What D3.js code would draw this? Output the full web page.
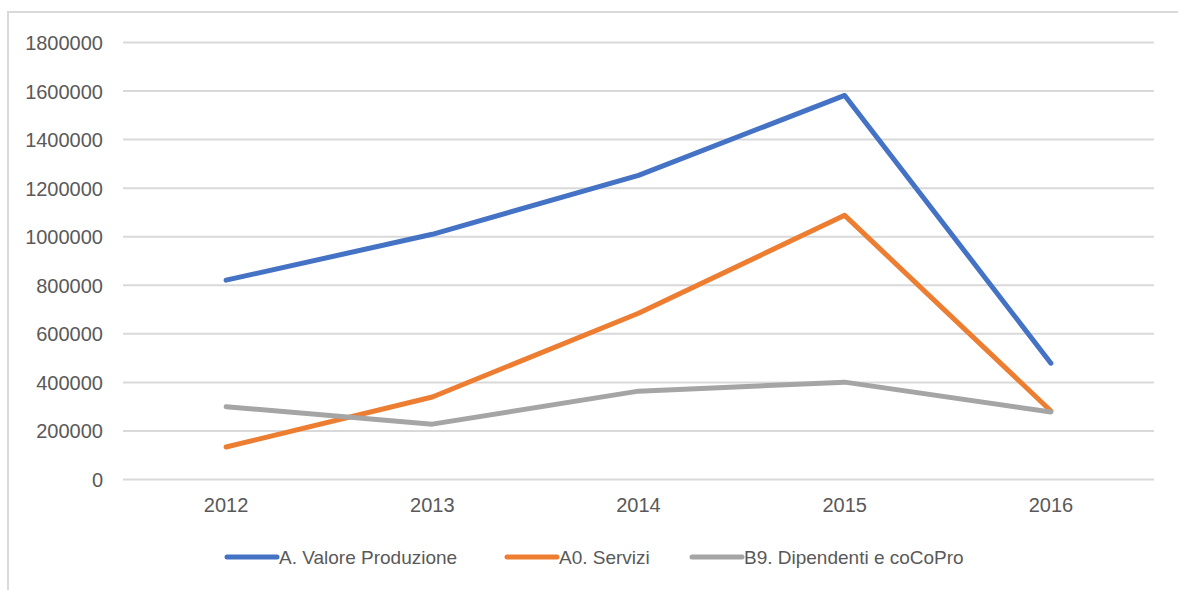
<!DOCTYPE html>
<html lang="it">
<head>
    <meta charset="UTF-8">
    <script src="https://cdn.jsdelivr.net/npm/d3@7"></script>
    <title>Chart</title>
    <style>
        body { margin: 0; background: #fff; }
        text { font-family: "Liberation Sans", Arial, sans-serif; fill: #595959; }
    </style>
</head>
<body>
<script>
    // dati
    let years = ["2012", "2013", "2014", "2015", "2016"];
    let valoreProduzione = [821000, 1010000, 1253000, 1582000, 479000];
    let servizi = [134000, 340000, 685000, 1088000, 282000];
    let dipendenti = [300000, 228000, 364000, 401000, 278000];
    let seriesNames = ["A. Valore Produzione", "A0. Servizi", "B9. Dipendenti e coCoPro"];
    let yTicks = [0, 200000, 400000, 600000, 800000, 1000000, 1200000, 1400000, 1600000, 1800000];

    let colors = ["#4472C4", "#ED7D31", "#A5A5A5"];
    let series = [valoreProduzione, servizi, dipendenti];

    let width = 1178, height = 590;
    let svg = d3.select("body").append("svg")
        .attr("width", width)
        .attr("height", height);

    // bordo del grafico (solo sopra e a sinistra visibili)
    svg.append("path")
        .attr("d", "M8,590 L8,12 L1178,12")
        .attr("fill", "none")
        .attr("stroke", "#d9d9d9")
        .attr("stroke-width", 2);

    let plotLeft = 123, plotRight = 1154, plotTop = 42.5, plotBottom = 479.5;

    let xScale = d3.scaleBand()
        .domain(years)
        .range([plotLeft, plotRight]);

    let yScale = d3.scaleLinear()
        .domain([0, 1800000])
        .range([plotBottom, plotTop]);

    // griglia
    svg.append("g")
        .selectAll("line")
        .data(yTicks)
        .enter()
        .append("line")
        .attr("x1", plotLeft)
        .attr("x2", plotRight)
        .attr("y1", d => yScale(d))
        .attr("y2", d => yScale(d))
        .attr("stroke", "#d9d9d9")
        .attr("stroke-width", 2);

    // asse y
    let yAxis = d3.axisLeft(yScale).tickValues(yTicks).tickSize(0).tickPadding(0).tickFormat(d => d);
    let gy = svg.append("g")
        .attr("transform", "translate(103,0)")
        .call(yAxis);
    gy.select(".domain").remove();
    gy.selectAll("text")
        .attr("font-size", 20)
        .attr("font-family", "Liberation Sans, Arial, sans-serif")
        .attr("fill", "#595959")
        .attr("dy", "0.35em");

    // asse x
    let xAxis = d3.axisBottom(xScale).tickSize(0).tickPadding(0);
    let gx = svg.append("g")
        .attr("transform", "translate(0,498)")
        .call(xAxis);
    gx.select(".domain").remove();
    gx.selectAll("text")
        .attr("font-size", 20)
        .attr("font-family", "Liberation Sans, Arial, sans-serif")
        .attr("fill", "#595959")
        .attr("dy", "0.72em");

    // linee
    let line = d3.line()
        .x((d, i) => xScale(years[i]) + xScale.bandwidth() / 2)
        .y(d => yScale(d));

    svg.selectAll(".serie")
        .data(series)
        .enter()
        .append("path")
        .attr("class", "serie")
        .attr("d", d => line(d))
        .attr("fill", "none")
        .attr("stroke", (d, i) => colors[i])
        .attr("stroke-width", 5)
        .attr("stroke-linecap", "round")
        .attr("stroke-linejoin", "round");

    // legenda
    let legendX = [227, 507, 692];
    let legend = svg.selectAll(".legend")
        .data(seriesNames)
        .enter()
        .append("g")
        .attr("class", "legend")
        .attr("transform", (d, i) => "translate(" + legendX[i] + ",557)");

    legend.append("line")
        .attr("x1", 0)
        .attr("x2", 50)
        .attr("stroke", (d, i) => colors[i])
        .attr("stroke-width", 5)
        .attr("stroke-linecap", "round");

    legend.append("text")
        .attr("x", 52)
        .attr("dy", "0.35em")
        .attr("font-size", 19)
        .text(d => d);
</script>
</body>
</html>
